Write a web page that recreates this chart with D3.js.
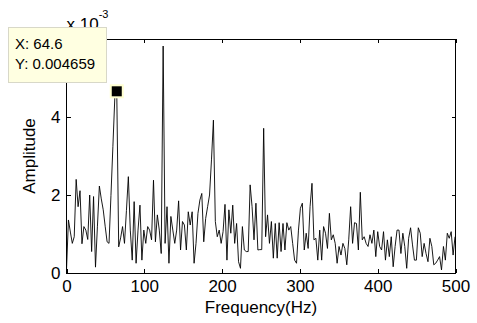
<!DOCTYPE html>
<html lang="en">
<head>
    <meta charset="UTF-8">
    <title>Amplitude spectrum</title>
    <script src="https://d3js.org/d3.v7.min.js"></script>
    <style>
        body { margin: 0; background: #fff; }
        svg { display: block; font-family: "Liberation Sans", Arial, sans-serif; }
        .axis text { font-size: 17px; fill: #000; }
        .axis path, .axis line { stroke: #000; shape-rendering: crispEdges; }
    </style>
</head>
<body>
    <div id="chart"></div>

    <script>
        // frequency step of the spectrum (Hz) and amplitudes (x 10^-3)
        const freqStep = 64.6 / 26;
        const amplitude = [
            0.08, 1.36, 1.05, 0.76, 0.93, 2.40, 1.70, 2.11, 0.75, 1.19,
            1.10, 0.86, 2.00, 0.55, 1.96, 0.15, 1.20, 2.23, 1.90, 1.62,
            1.20, 0.80, 0.76, 1.99, 3.25, 4.50, 4.659, 0.67, 0.90, 1.19,
            0.76, 1.60, 2.47, 1.10, 0.33, 1.83, 0.25, 1.10, 1.74, 0.33,
            1.10, 0.76, 1.19, 1.10, 0.85, 2.38, 0.80, 1.49, 1.10, 0.50,
            5.82, 0.76, 1.70, 0.25, 1.45, 1.10, 0.76, 1.10, 1.85, 0.59,
            1.32, 1.23, 0.59, 1.57, 1.23, 1.57, 0.25, 0.76, 1.53, 1.87,
            2.04, 0.80, 1.40, 1.70, 2.00, 2.90, 3.92, 1.32, 0.93, 1.10,
            0.76, 1.06, 1.76, 0.33, 1.62, 1.02, 1.74, 0.76, 1.27, 0.29,
            0.12, 1.19, 0.59, 0.55, 0.55, 2.26, 1.70, 0.85, 1.79, 0.59,
            0.60, 0.60, 3.71, 0.93, 1.49, 0.76, 1.32, 0.38, 1.27, 0.38,
            1.29, 0.55, 1.27, 0.59, 1.29, 1.10, 1.19, 0.76, 0.33, 0.25,
            1.10, 1.66, 1.79, 0.59, 1.02, 0.63, 1.70, 2.30, 0.85, 0.89,
            0.33, 1.10, 0.33, 1.19, 1.02, 0.63, 1.53, 0.85, 0.98, 0.76,
            0.25, 0.68, 0.46, 0.76, 0.63, 0.21, 0.85, 1.70, 0.76, 1.29,
            1.27, 0.59, 2.07, 0.85, 0.93, 0.76, 0.68, 0.98, 0.76, 1.10,
            0.42, 1.06, 0.68, 0.59, 1.06, 0.33, 0.85, 0.42, 0.93, 0.16,
            0.68, 1.10, 1.10, 0.50, 1.02, 0.68, 0.12, 0.89, 1.16, 0.72,
            0.33, 0.33, 1.16, 1.02, 0.42, 0.76, 0.50, 0.29, 0.89, 0.68,
            0.21, 0.25, 0.33, 0.42, 0.08, 0.68, 0.33, 1.02, 0.89, 1.06,
            0.46, 0.93
        ];
        const xTicks = [0, 100, 200, 300, 400, 500];
        const yTicks = [0, 2, 4];
        const tip = { x: 64.6, y: 4.659, label: ["X: 64.6", "Y: 0.004659"] };

        const width = 477, height = 323;
        const plot = { left: 66.5, right: 455.5, top: 39, bottom: 273 };

        const svg = d3.select("#chart").append("svg")
            .attr("width", width)
            .attr("height", height);

        const x = d3.scaleLinear().domain([0, 500]).range([plot.left, plot.right]);
        const y = d3.scaleLinear().domain([0, 6]).range([plot.bottom, plot.top]);

        const data = amplitude.map((a, i) => ({ f: i * freqStep, a: a }));

        // axes (ticks pointing inward, box all round like matlab)
        svg.append("g")
            .attr("class", "axis")
            .attr("transform", "translate(0," + plot.bottom + ")")
            .call(d3.axisBottom(x).tickValues(xTicks).tickSize(-4).tickPadding(7).tickFormat(d3.format("d")))
            .call(g => g.select(".domain").remove());

        svg.append("g")
            .attr("class", "axis")
            .attr("transform", "translate(0," + plot.top + ")")
            .call(d3.axisTop(x).tickValues(xTicks).tickSize(-4).tickFormat(""))
            .call(g => g.select(".domain").remove());

        svg.append("g")
            .attr("class", "axis")
            .attr("transform", "translate(" + plot.left + ",0)")
            .call(d3.axisLeft(y).tickValues(yTicks).tickSize(-4).tickPadding(6).tickFormat(d3.format("d")))
            .call(g => g.select(".domain").remove());

        svg.append("g")
            .attr("class", "axis")
            .attr("transform", "translate(" + plot.right + ",0)")
            .call(d3.axisRight(y).tickValues(yTicks).tickSize(-4).tickFormat(""))
            .call(g => g.select(".domain").remove());

        svg.append("rect")
            .attr("x", plot.left)
            .attr("y", plot.top)
            .attr("width", plot.right - plot.left)
            .attr("height", plot.bottom - plot.top)
            .attr("fill", "none")
            .attr("stroke", "#000")
            .attr("stroke-width", 1)
            .attr("shape-rendering", "crispEdges");

        // spectrum line
        const line = d3.line()
            .x(d => x(d.f))
            .y(d => y(d.a));

        svg.append("path")
            .datum(data)
            .attr("d", line)
            .attr("fill", "none")
            .attr("stroke", "#000")
            .attr("stroke-width", 0.9)
            .attr("stroke-linejoin", "miter");

        // axis labels
        svg.append("text")
            .attr("x", (plot.left + plot.right) / 2)
            .attr("y", 313)
            .attr("text-anchor", "middle")
            .style("font-size", "17px")
            .text("Frequency(Hz)");

        svg.append("text")
            .attr("transform", "translate(35," + (plot.top + plot.bottom) / 2 + ") rotate(-90)")
            .attr("text-anchor", "middle")
            .style("font-size", "17px")
            .text("Amplitude");

        // exponent label
        const expo = svg.append("text")
            .attr("x", plot.left)
            .attr("y", 30)
            .style("font-size", "17px");
        expo.append("tspan").text("x 10");
        expo.append("tspan")
            .attr("dy", -12)
            .style("font-size", "11px")
            .text("-3");

        // data tip marker and box
        svg.append("rect")
            .attr("x", x(tip.x) - 6)
            .attr("y", y(tip.y) - 6)
            .attr("width", 12)
            .attr("height", 12)
            .attr("fill", "#000")
            .attr("stroke", "#ffffd0")
            .attr("stroke-width", 2);

        svg.append("rect")
            .attr("x", 8.5)
            .attr("y", 27.5)
            .attr("width", 98)
            .attr("height", 55)
            .attr("fill", "#ffffe1")
            .attr("stroke", "#d8d8c8")
            .attr("stroke-width", 1);

        svg.selectAll(".tiptext")
            .data(tip.label)
            .enter().append("text")
            .attr("class", "tiptext")
            .attr("x", 15)
            .attr("y", (d, i) => 49 + i * 20)
            .style("font-size", "15px")
            .text(d => d);
    </script>
</body>
</html>
